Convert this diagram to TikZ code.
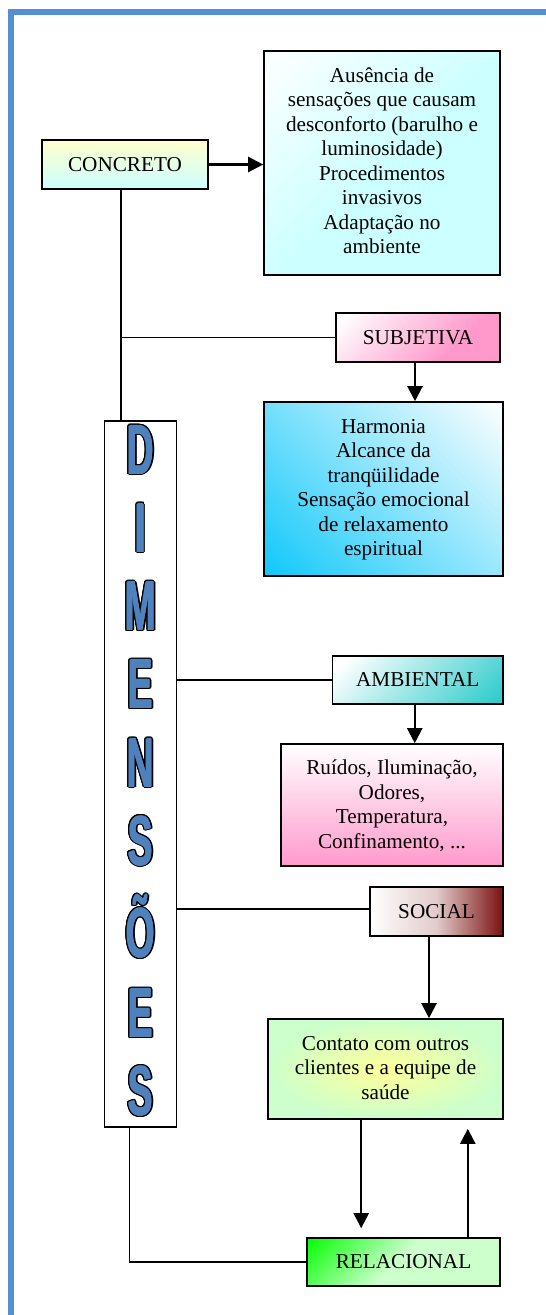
\documentclass[tikz,border=0pt]{standalone}
\usepackage{fontspec}
\usepackage{graphicx}
\setmainfont{Liberation Serif}
\newfontfamily\dimfont{Liberation Sans}
\usetikzlibrary{arrows.meta,calc}

\definecolor{framebl}{HTML}{558ED5}
\definecolor{dimblue}{HTML}{4F81BD}
\definecolor{paleyel}{HTML}{FFFFCC}
\definecolor{palecyan}{HTML}{CCFFFF}
\definecolor{rosa}{HTML}{FF99CC}
\definecolor{skyb}{HTML}{12C8FA}
\definecolor{tealc}{HTML}{33CCCC}
\definecolor{maroonc}{HTML}{7B1010}
\definecolor{lgreen}{HTML}{CCFFCC}
\definecolor{lyellow}{HTML}{FFFF99}
\definecolor{vgreen}{HTML}{00FF00}

% diagonal fills (used with a shading angle)
\pgfdeclareverticalshading{diagcyan}{100bp}{color(0bp)=(palecyan); color(48bp)=(palecyan); color(86bp)=(white); color(100bp)=(white)}
\pgfdeclareverticalshading{diagblue}{100bp}{color(0bp)=(skyb); color(15bp)=(skyb); color(86bp)=(white); color(100bp)=(white)}
\pgfdeclareverticalshading{diagpink}{100bp}{color(0bp)=(rosa); color(35bp)=(rosa); color(82bp)=(white); color(100bp)=(white)}
\pgfdeclareverticalshading{diagteal}{100bp}{color(0bp)=(tealc); color(18bp)=(tealc); color(80bp)=(white); color(100bp)=(white)}
\pgfdeclareverticalshading{diaggreen}{100bp}{color(0bp)=(lgreen); color(52bp)=(lgreen); color(86bp)=(vgreen); color(100bp)=(vgreen)}

% outlined, heavy letter: black copies around, blue on top
\newcommand\olshift[3]{\rlap{\kern#1\raisebox{#2}{\color{black}#3}}}
\newcommand\fatten[1]{\rlap{\kern-0.7pt#1}\rlap{\kern0.7pt#1}\rlap{\raisebox{0.6pt}{#1}}#1}
\newcommand\outlined[1]{\leavevmode
  \olshift{1.3pt}{0pt}{#1}\olshift{-1.3pt}{0pt}{#1}%
  \olshift{0pt}{1.3pt}{#1}\olshift{0pt}{-1.3pt}{#1}%
  \olshift{0.92pt}{0.92pt}{#1}\olshift{-0.92pt}{0.92pt}{#1}%
  \olshift{0.92pt}{-0.92pt}{#1}\olshift{-0.92pt}{-0.92pt}{#1}%
  {\color{dimblue}#1}}
\newcommand\dimch[1]{\outlined{\fatten{\scalebox{0.53}[1]{#1}}}}

\tikzset{
  box/.style={draw=black, line width=1.6pt, inner sep=0pt},
  smallbox/.style={box, font=\fontsize{21.2}{24.5}\selectfont},
  bigtext/.style={align=center, inner sep=0pt, font=\fontsize{21.2}{24.5}\selectfont},
  conn/.style={line width=1.4pt},
  arr/.style={line width=2.2pt, -{Triangle[length=15pt,width=15pt]}},
  dimletter/.style={anchor=base, inner sep=0pt, font=\dimfont\bfseries\fontsize{70}{70}\selectfont}
}

\begin{document}
\begin{tikzpicture}[x=1pt,y=-1pt]
\useasboundingbox (0,0) rectangle (546,1315);
\clip (0,0) rectangle (546,1315);

% page frame (top and left edges)
\draw[framebl, line width=6.4pt] (11.2,1320) -- (11.2,12.2) -- (560,12.2);

% boxes
\node[smallbox, top color=paleyel, bottom color=palecyan,
      minimum width=166pt, minimum height=49pt] (concreto) at (125,164.5) {CONCRETO};

\node[box, shade, shading=diagcyan, shading angle=45,
      minimum width=236pt, minimum height=224pt] (conf) at (382,163) {};
\node[bigtext] (conftxt) at (382,160.5) {Ausência de\\sensações que causam\\desconforto (barulho e\\luminosidade)\\Procedimentos\\invasivos\\Adaptação no\\ambiente};

\node[smallbox, shade, shading=diagpink, shading angle=45,
      minimum width=164pt, minimum height=49pt] (subj) at (418,337.5) {SUBJETIVA};

\node[box, shade, shading=diagblue, shading angle=-45,
      minimum width=239pt, minimum height=174pt] (harm) at (383.5,489) {};
\node[bigtext] (harmtxt) at (383.5,489.5) {Harmonia\\Alcance da\\tranqüilidade\\Sensação emocional\\de relaxamento\\espiritual};

\node[smallbox, shade, shading=diagteal, shading angle=45,
      minimum width=170.5pt, minimum height=48pt] (amb) at (417.75,680) {AMBIENTAL};

\node[box, top color=white, bottom color=rosa,
      minimum width=222pt, minimum height=122pt] (ruid) at (392,805) {};
\node[bigtext] (ruidtxt) at (392,805.5) {Ruídos, Iluminação,\\Odores,\\Temperatura,\\Confinamento, ...};

\node[smallbox, left color=white, right color=maroonc, middle color=maroonc!22,
      minimum width=133pt, minimum height=49pt] (soc) at (436.5,911.5) {SOCIAL};

\node[box, inner color=lyellow, outer color=lgreen,
      minimum width=235pt, minimum height=100pt] (cont) at (385.5,1069) {};
\node[bigtext] (conttxt) at (385.5,1068) {Contato com outros\\clientes e a equipe de\\saúde};

\node[smallbox, shade, shading=diaggreen, shading angle=45,
      minimum width=193pt, minimum height=48pt] (rel) at (403.5,1262) {RELACIONAL};

% vertical DIMENSÕES column
\node[box, fill=white, minimum width=72pt, minimum height=706pt] (dim) at (140.5,774) {};
\node[dimletter] (l1) at (140.5,474) {\dimch{D}};
\node[dimletter] (l2) at (140.5,552) {\dimch{I}};
\node[dimletter] (l3) at (140.5,630.5) {\dimch{M}};
\node[dimletter] (l4) at (140.5,708.5) {\dimch{E}};
\node[dimletter] (l5) at (140.5,787) {\dimch{N}};
\node[dimletter] (l6) at (140.5,865) {\dimch{S}};
\node[dimletter] (l7) at (140.5,957.5) {\dimch{Õ}};
\node[dimletter] (l8) at (140.5,1037.5) {\dimch{E}};
\node[dimletter] (l9) at (140.5,1115.5) {\dimch{S}};

% connectors
\coordinate (trunktop) at ([xshift=-4pt]concreto.south);
\draw[arr] (concreto.east) -- (concreto.east -| conf.west);
\draw[conn] (trunktop) -- (trunktop |- dim.north);
\draw[conn] (subj.west) -- (subj.west -| trunktop);
\coordinate (subjfoot) at ([xshift=-3pt]subj.south);
\draw[arr] (subjfoot) -- (subjfoot |- harm.north);
\draw[conn] (amb.west) -- (amb.west -| dim.east);
\coordinate (ambfoot) at ([xshift=-3pt]amb.south);
\draw[arr] (ambfoot) -- (ambfoot |- ruid.north);
\coordinate (socside) at ([yshift=2.5pt]soc.west);
\draw[conn] (socside) -- (socside -| dim.east);
\coordinate (socfoot) at ([xshift=-7.5pt]soc.south);
\draw[arr] (socfoot) -- (socfoot |- cont.north);
\coordinate (dimfoot) at ([xshift=-11pt]dim.south);
\draw[conn] (dimfoot) |- (rel.west);
\coordinate (downstart) at ($(cont.south west)+(94,0)$);
\draw[arr, shorten >=9pt] (downstart) -- (downstart |- rel.north);
\coordinate (upstart) at ($(rel.north east)+(-33,0)$);
\draw[arr, shorten >=9pt] (upstart) -- (upstart |- cont.south);
\end{tikzpicture}
\end{document}
